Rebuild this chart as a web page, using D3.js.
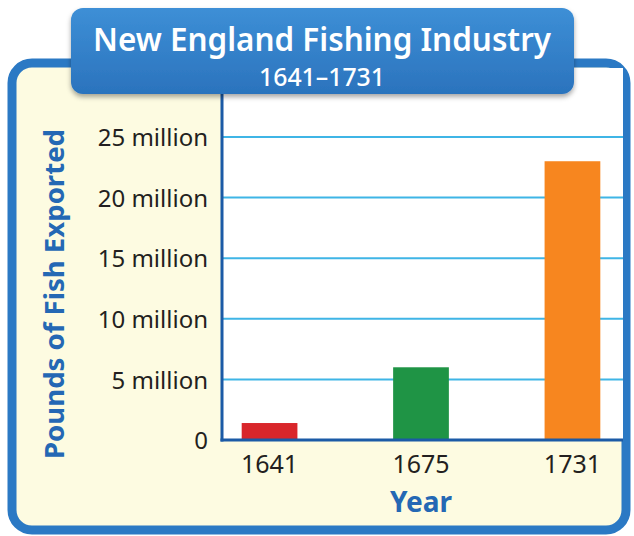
<!DOCTYPE html>
<html>
<head>
<meta charset="utf-8">
<title>New England Fishing Industry</title>
<style>
  body { margin: 0; background: #fff; }
  svg { display: block; }
</style>
</head>
<body>
<svg id="chart" width="634" height="536"></svg>
<script src="https://d3js.org/d3.v7.min.js"></script>
<script>
// data (millions of pounds)
const years = ['1641', '1675', '1731'];
const pounds = [1.4, 6.0, 23.0];
const barColors = ['#d9262b', '#1f9445', '#f7861f'];
const tickValues = [0, 5, 10, 15, 20, 25];
const tickLabels = ['0', '5 million', '10 million', '15 million', '20 million', '25 million'];

const svg = d3.select('#chart');
const blue = '#2b79c4';
const darkBlue = '#1b5aa6';
const labelBlue = '#2468b4';

const defs = svg.append('defs');
const grad = defs.append('linearGradient').attr('id', 'titleGrad')
  .attr('x1', 0).attr('y1', 0).attr('x2', 0).attr('y2', 1);
grad.append('stop').attr('offset', 0).attr('stop-color', '#3d8fd6');
grad.append('stop').attr('offset', 1).attr('stop-color', '#2b73bd');
const shadow = defs.append('filter').attr('id', 'shadow')
  .attr('x', -0.1).attr('y', -0.1).attr('width', 1.2).attr('height', 1.3);
shadow.append('feDropShadow').attr('dx', 0).attr('dy', 3)
  .attr('stdDeviation', 2.5).attr('flood-color', '#000').attr('flood-opacity', 0.35);

// plot geometry
const plot = {left: 222, right: 623, top: 68, bottom: 440};

// outer frame with cream fill
svg.append('rect')
  .attr('x', 12).attr('y', 63).attr('width', 614).attr('height', 467)
  .attr('rx', 20).attr('ry', 20)
  .attr('fill', '#fdfbe1')
  .attr('stroke', blue).attr('stroke-width', 9);

// white plot area
svg.append('rect')
  .attr('x', plot.left).attr('y', plot.top)
  .attr('width', plot.right - plot.left).attr('height', plot.bottom - plot.top)
  .attr('fill', '#ffffff');

const y = d3.scaleLinear().domain([0, 25]).range([plot.bottom, 137]);
const x = d3.scaleBand().domain(years)
  .range([plot.left, 620])
  .paddingInner(0.632).paddingOuter(0.13);

// gridlines
svg.append('g')
  .selectAll('line')
  .data(tickValues.filter(v => v > 0))
  .join('line')
  .attr('x1', plot.left).attr('x2', plot.right)
  .attr('y1', d => y(d)).attr('y2', d => y(d))
  .attr('stroke', '#3fb5e6').attr('stroke-width', 2);

// bars
svg.append('g')
  .selectAll('rect')
  .data(pounds)
  .join('rect')
  .attr('x', (d, i) => x(years[i]))
  .attr('y', d => y(d))
  .attr('width', x.bandwidth())
  .attr('height', d => y(0) - y(d))
  .attr('fill', (d, i) => barColors[i]);

// y axis
const yAxis = svg.append('g')
  .attr('transform', `translate(${plot.left},0)`)
  .call(d3.axisLeft(y).tickValues(tickValues)
    .tickFormat((d, i) => tickLabels[i]).tickSize(0).tickPadding(14));
yAxis.select('.domain').remove();
yAxis.selectAll('text')
  .attr('font-family', 'Noto Sans').attr('font-size', 24)
  .attr('fill', '#231f20').attr('dy', '0.36em');

// x axis
const xAxis = svg.append('g')
  .attr('transform', `translate(0,${plot.bottom})`)
  .call(d3.axisBottom(x).tickSize(0).tickPadding(15));
xAxis.select('.domain').remove();
xAxis.selectAll('text')
  .attr('font-family', 'Noto Sans').attr('font-size', 25)
  .attr('fill', '#231f20');

// axis lines
svg.append('line')
  .attr('x1', plot.left).attr('x2', plot.left)
  .attr('y1', plot.top).attr('y2', plot.bottom + 1.5)
  .attr('stroke', darkBlue).attr('stroke-width', 3);
svg.append('line')
  .attr('x1', plot.left - 1.5).attr('x2', plot.right)
  .attr('y1', plot.bottom).attr('y2', plot.bottom)
  .attr('stroke', darkBlue).attr('stroke-width', 3);

// axis titles
svg.append('text')
  .attr('transform', 'translate(64,294) rotate(-90)')
  .attr('text-anchor', 'middle')
  .attr('font-family', 'Noto Sans').attr('font-weight', 'bold')
  .attr('font-size', 26).attr('fill', labelBlue)
  .attr('textLength', 330).attr('lengthAdjust', 'spacingAndGlyphs')
  .text('Pounds of Fish Exported');

svg.append('text')
  .attr('x', x('1675') + x.bandwidth() / 2).attr('y', 512)
  .attr('text-anchor', 'middle')
  .attr('font-family', 'Noto Sans').attr('font-weight', 'bold')
  .attr('font-size', 28).attr('fill', labelBlue)
  .text('Year');

// title box
svg.append('rect')
  .attr('x', 71).attr('y', 8).attr('width', 503).attr('height', 86)
  .attr('rx', 12).attr('ry', 12)
  .attr('fill', 'url(#titleGrad)')
  .attr('filter', 'url(#shadow)');

svg.append('text')
  .attr('x', 322).attr('y', 51)
  .attr('text-anchor', 'middle')
  .attr('font-family', 'Noto Sans').attr('font-weight', 600)
  .attr('font-size', 33).attr('fill', '#ffffff')
  .attr('textLength', 458).attr('lengthAdjust', 'spacingAndGlyphs')
  .text('New England Fishing Industry');

svg.append('text')
  .attr('x', 322).attr('y', 86)
  .attr('text-anchor', 'middle')
  .attr('font-family', 'Noto Sans').attr('font-weight', 500)
  .attr('font-size', 25).attr('fill', '#ffffff')
  .attr('textLength', 126).attr('lengthAdjust', 'spacingAndGlyphs')
  .text('1641–1731');
</script>
</body>
</html>
